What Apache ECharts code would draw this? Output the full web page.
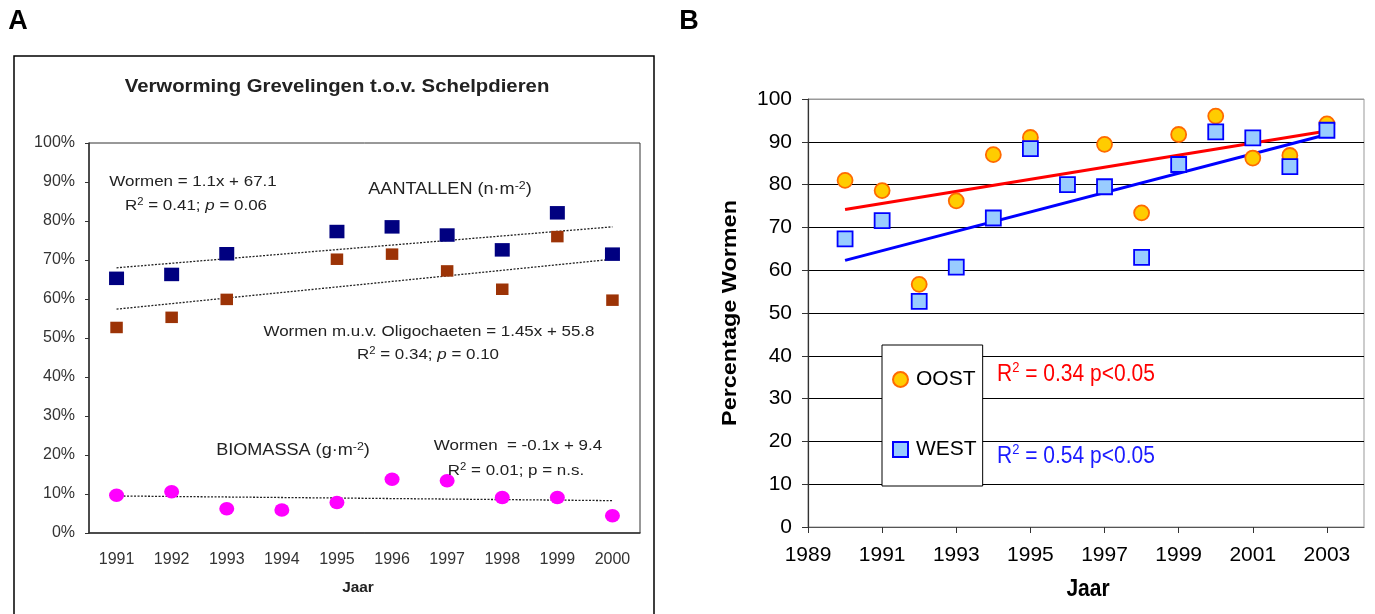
<!DOCTYPE html>
<html>
<head>
<meta charset="utf-8">
<script src="https://cdn.jsdelivr.net/npm/echarts@6/dist/echarts.min.js"></script>
<style>
  html, body { margin: 0; padding: 0; background: #fff; }
  #chart { width: 1375px; height: 614px; }
</style>
</head>
<body>
<div id="chart"></div>
<script>
// ---------- Panel A data ----------
const yearsA = ['1991', '1992', '1993', '1994', '1995', '1996', '1997', '1998', '1999', '2000'];
const aantallenWormen = [65.3, 66.3, 71.6, null, 77.3, 78.5, 76.4, 72.6, 82.1, 71.5];
const aantallenExOligo = [52.7, 55.3, 59.9, null, 70.2, 71.5, 67.2, 62.5, 76.0, 59.7];
const biomassaWormen = [9.7, 10.6, 6.2, 5.9, 7.8, 13.8, 13.4, 9.1, 9.1, 4.4];
// trend line end points (first year, last year)
const trendAantallen = [68.0, 78.5];
const trendExOligo = [57.4, 70.2];
const trendBiomassa = [9.5, 8.3];

// ---------- Panel B data ----------
const baseYearB = 1989;
const yearsB = [1990, 1991, 1992, 1993, 1994, 1995, 1996, 1997, 1998, 1999, 2000, 2001, 2002, 2003];
const oost = [81.0, 78.6, 56.7, 76.2, 87.0, 91.0, null, 89.4, 73.4, 91.7, 96.0, 86.2, 86.8, 94.2];
const west = [67.3, 71.6, 52.7, 60.7, 72.2, 88.4, 80.0, 79.5, 63.0, 84.7, 92.3, 90.9, 84.2, 92.7];
const trendYearsB = [1990, 2003];
const trendOost = [74.2, 92.5];
const trendWest = [62.3, 91.7];
const xTickLabelsB = ['1989', '1991', '1993', '1995', '1997', '1999', '2001', '2003'];

const FONT = "'Liberation Sans', Arial, Helvetica, sans-serif";

function pairsCat(arr) {
  const out = [];
  arr.forEach((v, i) => { if (v != null) out.push([i, v]); });
  return out;
}
function pairsYear(years, arr) {
  const out = [];
  arr.forEach((v, i) => { if (v != null) out.push([years[i] - baseYearB, v]); });
  return out;
}

function txt(x, y, text, o) {
  o = o || {};
  const style = {
    text: text,
    x: 0, y: 0,
    fontFamily: FONT,
    fontSize: o.size || 15,
    fontWeight: o.weight || 'normal',
    fontStyle: 'normal',
    fill: o.color || '#222',
    align: o.align || 'center',
    verticalAlign: 'middle',
    textAlign: o.align || 'center',
    textVerticalAlign: 'middle'
  };
  if (o.rich) style.rich = o.rich;
  return {
    type: 'text', x: x, y: y,
    scaleX: o.sx || 1, scaleY: o.sy || 1,
    rotation: o.rot || 0,
    z: 10,
    silent: true,
    style: style
  };
}

function richA(color) {
  return {
    r: { fontFamily: FONT, fontSize: 15, lineHeight: 18, fill: color, color: color },
    i: { fontFamily: FONT, fontSize: 15, lineHeight: 18, fontStyle: 'italic', fill: color, color: color },
    s: { fontFamily: FONT, fontSize: 10, lineHeight: 10, verticalAlign: 'top', fill: color, color: color },
    b: { fontFamily: FONT, fontSize: 16, lineHeight: 20, fill: color, color: color },
    bs: { fontFamily: FONT, fontSize: 11, lineHeight: 11, verticalAlign: 'top', fill: color, color: color }
  };
}
function richB(color) {
  return {
    r: { fontFamily: FONT, fontSize: 21, lineHeight: 25, fill: color, color: color },
    s: { fontFamily: FONT, fontSize: 13, lineHeight: 13, verticalAlign: 'top', fill: color, color: color }
  };
}

const SX = 1.13;

const option = {
  animation: false,
  backgroundColor: '#ffffff',
  grid: [
    { left: 89, right: 1375 - 640, top: 143, bottom: 614 - 533, show: true, borderColor: '#333', borderWidth: 1, backgroundColor: 'transparent' },
    { left: 808, right: 1375 - 1364, top: 99, bottom: 614 - 527, show: true, borderColor: '#999', borderWidth: 1, backgroundColor: 'transparent' }
  ],
  xAxis: [
    {
      type: 'category', gridIndex: 0, data: yearsA, boundaryGap: true,
      axisLine: { lineStyle: { color: '#333', width: 1.5 } },
      axisTick: { inside: true, length: 6, lineStyle: { color: '#333', width: 1.2 } },
      axisLabel: { fontFamily: FONT, fontSize: 16, color: '#333', margin: 19, interval: 0 },
      splitLine: { show: false }
    },
    {
      type: 'value', gridIndex: 1, min: 0, max: 15, interval: 2,
      axisLine: { lineStyle: { color: '#555', width: 1.2 } },
      axisTick: { inside: false, length: 6, lineStyle: { color: '#333' } },
      axisLabel: {
        fontFamily: FONT, fontSize: 21, color: '#000', margin: 18, showMaxLabel: false,
        formatter: function (v) { return xTickLabelsB[v / 2] || ''; }
      },
      splitLine: { show: false }
    }
  ],
  yAxis: [
    {
      type: 'value', gridIndex: 0, min: 0, max: 100, interval: 10,
      axisLine: { show: true, lineStyle: { color: '#333', width: 1.5 } },
      axisTick: { show: true, inside: false, length: 4, lineStyle: { color: '#333' } },
      axisLabel: { fontFamily: FONT, fontSize: 16, color: '#333', margin: 14, formatter: '{value}%' },
      splitLine: { show: false }
    },
    {
      type: 'value', gridIndex: 1, min: 0, max: 100, interval: 10,
      axisLine: { show: true, lineStyle: { color: '#333', width: 1.2 } },
      axisTick: { show: true, inside: false, length: 6, lineStyle: { color: '#333' } },
      axisLabel: { fontFamily: FONT, fontSize: 21, color: '#000', margin: 16 },
      splitLine: { show: true, lineStyle: { color: ['#000', '#000', '#000', '#000', '#000', '#000', '#000', '#000', '#000', '#000', '#999'], width: 1 } }
    }
  ],
  legend: {
    data: ['OOST', 'WEST'],
    orient: 'vertical',
    left: 882, top: 345,
    padding: [24, 6, 26, 10],
    itemGap: 49,
    itemWidth: 15, itemHeight: 15,
    backgroundColor: '#fff', borderColor: '#000', borderWidth: 1, borderRadius: 0,
    textStyle: { fontFamily: FONT, fontSize: 21, color: '#000', padding: [0, 0, 0, 3] },
    selectedMode: false
  },
  series: [
    // ----- Panel A -----
    {
      name: 'Trend aantallen', type: 'line', xAxisIndex: 0, yAxisIndex: 0,
      data: [[0, trendAantallen[0]], [yearsA.length - 1, trendAantallen[1]]],
      symbol: 'none', lineStyle: { color: '#222', width: 1.3, type: [2, 1.5] }, z: 2
    },
    {
      name: 'Trend m.u.v. Oligochaeten', type: 'line', xAxisIndex: 0, yAxisIndex: 0,
      data: [[0, trendExOligo[0]], [yearsA.length - 1, trendExOligo[1]]],
      symbol: 'none', lineStyle: { color: '#222', width: 1.3, type: [2, 1.5] }, z: 2
    },
    {
      name: 'Trend biomassa', type: 'line', xAxisIndex: 0, yAxisIndex: 0,
      data: [[0, trendBiomassa[0]], [yearsA.length - 1, trendBiomassa[1]]],
      symbol: 'none', lineStyle: { color: '#222', width: 1.3, type: [2, 1.5] }, z: 2
    },
    {
      name: 'Wormen (aantallen)', type: 'scatter', xAxisIndex: 0, yAxisIndex: 0,
      data: pairsCat(aantallenWormen), symbol: 'rect', symbolSize: [15, 13.5],
      itemStyle: { color: '#000080', opacity: 1 }, z: 3
    },
    {
      name: 'Wormen m.u.v. Oligochaeten', type: 'scatter', xAxisIndex: 0, yAxisIndex: 0,
      data: pairsCat(aantallenExOligo), symbol: 'rect', symbolSize: [12.5, 11.5],
      itemStyle: { color: '#9C3306', opacity: 1 }, z: 3
    },
    {
      name: 'Wormen (biomassa)', type: 'scatter', xAxisIndex: 0, yAxisIndex: 0,
      data: pairsCat(biomassaWormen), symbol: 'circle', symbolSize: [15, 13.5],
      itemStyle: { color: '#FF00FF', opacity: 1 }, z: 3
    },
    // ----- Panel B -----
    {
      name: 'Trend OOST', type: 'line', xAxisIndex: 1, yAxisIndex: 1,
      data: trendYearsB.map((y, i) => [y - baseYearB, trendOost[i]]),
      symbol: 'none', lineStyle: { color: '#FF0000', width: 3 }, z: 2
    },
    {
      name: 'Trend WEST', type: 'line', xAxisIndex: 1, yAxisIndex: 1,
      data: trendYearsB.map((y, i) => [y - baseYearB, trendWest[i]]),
      symbol: 'none', lineStyle: { color: '#0000FF', width: 3 }, z: 2
    },
    {
      name: 'OOST', type: 'scatter', xAxisIndex: 1, yAxisIndex: 1,
      data: pairsYear(yearsB, oost), symbol: 'circle', symbolSize: 15,
      itemStyle: { color: '#FFCC00', borderColor: '#FF6A00', borderWidth: 1.8, opacity: 1 }, z: 3
    },
    {
      name: 'WEST', type: 'scatter', xAxisIndex: 1, yAxisIndex: 1,
      data: pairsYear(yearsB, west), symbol: 'rect', symbolSize: 15,
      itemStyle: { color: '#99CCFF', borderColor: '#0000FF', borderWidth: 1.8, opacity: 1 }, z: 4
    }
  ],
  graphic: [
    // panel letters
    txt(18, 22, 'A', { size: 27, weight: 'bold', color: '#000' }),
    txt(689, 22, 'B', { size: 27, weight: 'bold', color: '#000' }),
    // panel A frame
    { type: 'rect', silent: true, z: 1, shape: { x: 14, y: 56, width: 640, height: 600 }, style: { fill: 'none', stroke: '#000', lineWidth: 1.5 } },
    // panel A title
    txt(337, 87, 'Verworming Grevelingen t.o.v. Schelpdieren', { size: 18, weight: 'bold', color: '#222', sx: 1.13 }),
    // panel A annotations
    txt(193, 182, 'Wormen = 1.1x + 67.1', { sx: SX }),
    txt(196, 206, '{r|R}{s|2}{r| = 0.41; }{i|p}{r| = 0.06}', { sx: SX, rich: richA('#222') }),
    txt(450, 190, '{b|AANTALLEN (n·m}{bs|-2}{b|)}', { sx: SX, rich: richA('#222') }),
    txt(429, 332, 'Wormen m.u.v. Oligochaeten = 1.45x + 55.8', { sx: SX }),
    txt(428, 355, '{r|R}{s|2}{r| = 0.34; }{i|p}{r| = 0.10}', { sx: SX, rich: richA('#222') }),
    txt(293, 451, '{b|BIOMASSA (g·m}{bs|-2}{b|)}', { sx: SX, rich: richA('#222') }),
    txt(518, 446, 'Wormen  = -0.1x + 9.4', { sx: SX }),
    txt(516, 471, '{r|R}{s|2}{r| = 0.01; p = n.s.}', { sx: SX, rich: richA('#222') }),
    txt(358, 588, 'Jaar', { size: 14, weight: 'bold', color: '#222', sx: 1.1 }),
    // panel B annotations
    txt(997, 375, '{r|R}{s|2}{r| = 0.34 p<0.05}', { align: 'left', sy: 1.1, rich: richB('#FF0000') }),
    txt(997, 457, '{r|R}{s|2}{r| = 0.54 p<0.05}', { align: 'left', sy: 1.1, rich: richB('#1a1aff') }),
    txt(1088, 590, 'Jaar', { size: 21, weight: 'bold', color: '#000', sy: 1.1 }),
    txt(730, 313, 'Percentage Wormen', { size: 20, weight: 'bold', color: '#000', rot: Math.PI / 2, sx: 1.17 })
  ]
};

const chart = echarts.init(document.getElementById('chart'), null, { renderer: 'canvas' });
chart.setOption(option);
</script>
</body>
</html>
